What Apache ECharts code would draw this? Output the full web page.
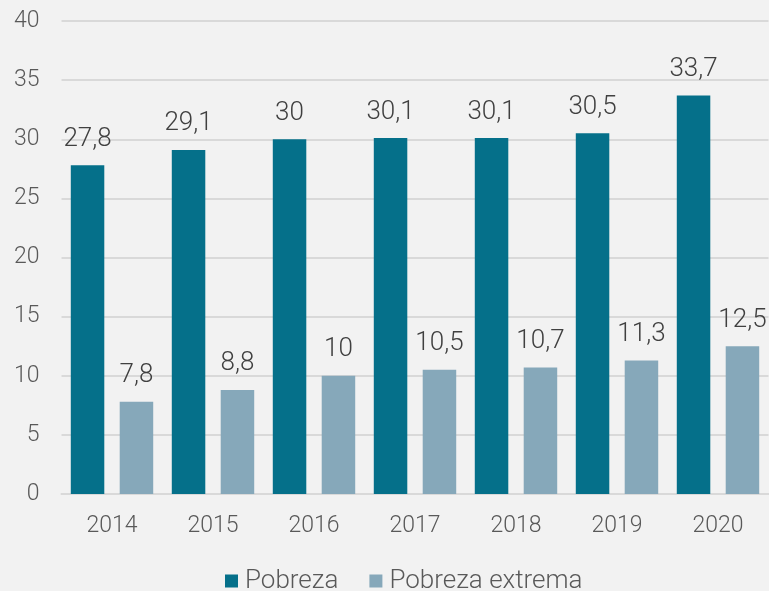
<!DOCTYPE html>
<html><head><meta charset="utf-8">
<script src="https://cdn.jsdelivr.net/npm/echarts@6/dist/echarts.min.js"></script>
<style>html,body{margin:0;padding:0;background:#f2f2f2;}#c{width:769px;height:591px;}</style>
</head><body><div id="c"></div>
<script>
const categories = ['2014','2015','2016','2017','2018','2019','2020'];
const pobreza = [27.8, 29.1, 30, 30.1, 30.1, 30.5, 33.7];
const pobrezaExtrema = [7.8, 8.8, 10, 10.5, 10.7, 11.3, 12.5];
const yTicks = [0, 5, 10, 15, 20, 25, 30, 35, 40];

const FONT = 'Roboto';
const chart = echarts.init(document.getElementById('c'));
const lbl = {
  show: true, position: 'top', distance: 13, color: '#404040', fontSize: 26, fontFamily: FONT, fontWeight: 300,
  formatter: p => String(p.value).replace('.', ',')
};
chart.setOption({
  backgroundColor: '#f2f2f2',
  animation: false,
  grid: { left: 61.5, right: 0.5, top: 21, bottom: 97, containLabel: false },
  legend: {
    data: ['Pobreza', 'Pobreza extrema'],
    top: 563, left: 220,
    itemWidth: 13, itemHeight: 13, itemGap: 31,
    icon: 'rect',
    textStyle: { color: '#595959', fontSize: 26, fontFamily: FONT, fontWeight: 300, padding: [0,0,0,2] }
  },
  xAxis: {
    type: 'category', data: categories,
    axisLine: { show: true, lineStyle: { color: '#d9d9d9', width: 2 } },
    axisTick: { show: false },
    axisLabel: { color: '#595959', fontSize: 23, fontFamily: FONT, fontWeight: 300, margin: 21 }
  },
  yAxis: {
    type: 'value', min: yTicks[0], max: yTicks[yTicks.length-1], interval: 5,
    axisLine: { show: false }, axisTick: { show: false },
    splitLine: { lineStyle: { color: '#d9d9d9', width: 2 } },
    axisLabel: { color: '#595959', fontSize: 23, fontFamily: FONT, fontWeight: 300, margin: 22 }
  },
  series: [
    { name: 'Pobreza', type: 'bar', data: pobreza, barWidth: 33.5, barGap: '46%',
      itemStyle: { color: '#05708a' }, label: lbl },
    { name: 'Pobreza extrema', type: 'bar', data: pobrezaExtrema, barWidth: 33.5,
      itemStyle: { color: '#86a8ba' }, label: lbl }
  ]
});
</script></body></html>
